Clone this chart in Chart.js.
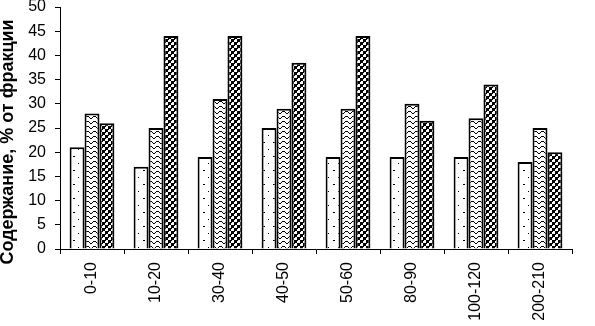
<!DOCTYPE html>
<html><head><meta charset="utf-8">
<script src="https://cdn.jsdelivr.net/npm/chart.js@4.4.0/dist/chart.umd.min.js"></script>
<style>html,body{margin:0;padding:0;background:#fff}#wrap{width:595px;height:326px}</style>
</head><body><div id="wrap"><canvas id="c"></canvas></div>
<script>
const categories = ['0-10','10-20','30-40','40-50','50-60','80-90','100-120','200-210'];
const series1 = [21, 17, 19, 25, 19, 19, 19, 18];
const series2 = [28, 25, 31, 29, 29, 30, 27, 25];
const series3 = [26, 44, 44, 38.5, 44, 26.5, 34, 20];
const yTicks = [0,5,10,15,20,25,30,35,40,45,50];
const yTitle = 'Содержание, % от фракции';

function mkPattern(w, h, draw) {
  const c = document.createElement('canvas');
  c.width = w; c.height = h;
  const g = c.getContext('2d');
  g.fillStyle = '#fff'; g.fillRect(0,0,w,h);
  g.fillStyle = '#000';
  draw(g);
  return document.getElementById('c').getContext('2d').createPattern(c, 'repeat');
}
const pDots = mkPattern(10, 14, g => { g.fillRect(3,2,2,1); g.fillRect(8,9,1,1); });
const pWave = mkPattern(7, 5, g => {
  g.fillRect(0,3,1,1); g.fillRect(1,2,1,1); g.fillRect(2,1,3,1); g.fillRect(5,2,1,1); g.fillRect(6,3,1,1);
});
const pCheck = mkPattern(6, 6, g => { g.fillRect(0,0,3,3); g.fillRect(3,3,3,3); g.fillRect(3,0,1,1); g.fillRect(0,3,1,1); });

const fam = '"Liberation Sans", Arial, sans-serif';
const titlePlugin = {
  id: 'ytitle',
  afterDraw(chart) {
    const ctx = chart.ctx;
    ctx.save();
    ctx.translate(8, 142);
    ctx.rotate(-Math.PI / 2);
    ctx.font = 'bold 18px ' + fam;
    ctx.fillStyle = '#000';
    ctx.textAlign = 'center';
    ctx.textBaseline = 'middle';
    ctx.fillText(yTitle, 0, 0);
    ctx.restore();
  }
};

new Chart(document.getElementById('c'), {
  type: 'bar',
  data: {
    labels: categories,
    datasets: [
      {data: series1, backgroundColor: pDots, borderColor: '#000', borderWidth: 2},
      {data: series2, backgroundColor: pWave, borderColor: '#000', borderWidth: 2},
      {data: series3, backgroundColor: pCheck, borderColor: '#000', borderWidth: 2}
    ]
  },
  plugins: [titlePlugin],
  options: {
    responsive: true, maintainAspectRatio: false, animation: false,
    layout: {padding: {top: 7, right: 23, left: 0, bottom: 0}},
    plugins: {legend: {display: false}, tooltip: {enabled: false}},
    datasets: {bar: {barPercentage: 1, categoryPercentage: 0.7}},
    scales: {
      x: {
        grid: {display: true, drawOnChartArea: false, color: '#000', tickLength: 5, lineWidth: 1},
        border: {display: true, color: '#000', width: 1},
        ticks: {color: '#000', font: {family: fam, size: 16}, maxRotation: 90, minRotation: 90, padding: 8},
        afterFit: s => { s.height = 77; s.paddingLeft = 0; s.paddingRight = 0; }
      },
      y: {
        min: 0, max: 50,
        afterBuildTicks: s => { s.ticks = yTicks.map(v => ({value: v})); },
        grid: {display: true, drawOnChartArea: false, color: '#000', tickLength: 5, lineWidth: 1},
        border: {display: true, color: '#000', width: 1},
        ticks: {color: '#000', font: {family: fam, size: 16}, padding: 9},
        afterFit: s => { s.width = 60; s.paddingTop = 0; s.paddingBottom = 0; }
      }
    }
  }
});
</script>
</body></html>
